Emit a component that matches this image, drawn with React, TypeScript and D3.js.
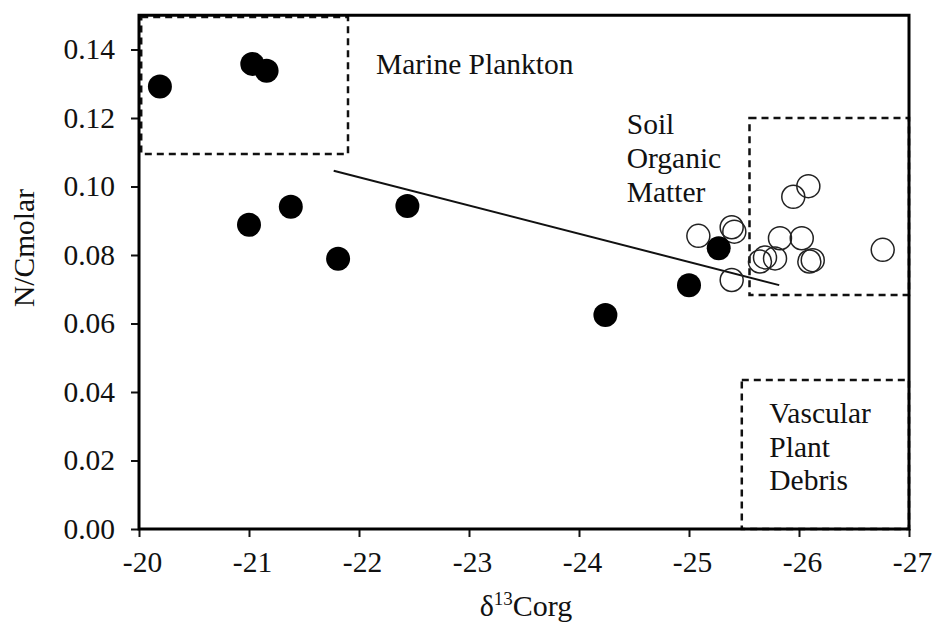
import { useRef, useEffect } from 'react';
import * as d3 from 'd3';

// filled: sediment samples, open: soil samples  [d13C, N/C]
const FILLED: [number, number][] = [
  [-20.19, 0.1292], [-21.03, 0.1358], [-21.16, 0.1338], [-21.0, 0.0888],
  [-21.38, 0.0941], [-21.81, 0.0789], [-22.44, 0.0943], [-24.24, 0.0625],
  [-25.0, 0.0712], [-25.27, 0.082],
];
const OPEN: [number, number][] = [
  [-25.085, 0.0856], [-25.388, 0.0881], [-25.412, 0.0868], [-25.388, 0.0727],
  [-25.645, 0.0781], [-25.691, 0.0793], [-25.782, 0.079], [-25.827, 0.0849],
  [-25.948, 0.097], [-26.085, 0.1001], [-26.025, 0.0849], [-26.094, 0.0781],
  [-26.125, 0.0785], [-26.761, 0.0815],
];
const TREND: [number, number][] = [[-21.77, 0.1046], [-25.82, 0.0712]];

const X_TICKS = [-20, -21, -22, -23, -24, -25, -26, -27];
const Y_TICKS = [0, 0.02, 0.04, 0.06, 0.08, 0.1, 0.12, 0.14];

const ZONES = [
  { id: 'marine', x0: -20.02, x1: -21.9, y0: 0.1095, y1: 0.1495 },
  { id: 'soil', x0: -25.55, x1: -27, y0: 0.0683, y1: 0.12 },
  { id: 'vascular', x0: -25.48, x1: -27, y0: 0, y1: 0.0435 },
];
const ZONE_LABELS = [
  { lines: ['Marine Plankton'], x: -22.155, y: 0.1328 },
  { lines: ['Soil', 'Organic', 'Matter'], x: -24.434, y: 0.1152 },
  { lines: ['Vascular', 'Plant', 'Debris'], x: -25.73, y: 0.0309 },
];

export default function App() {
  const ref = useRef<SVGSVGElement>(null);

  useEffect(() => {
    const svg = ref.current;
    if (!svg) return;
    const W = 938, H = 624;
    const font = '"Liberation Serif", "Times New Roman", serif';
    const fs = 29.5;
    d3.select(svg).selectAll('*').remove();
    const g = d3.select(svg).attr('viewBox', `0 0 ${W} ${H}`).append('g');

    const x = d3.scaleLinear().domain([-20, -27]).range([139, 909]);
    const y = d3.scaleLinear().domain([0, 0.15]).range([529, 15.25]);

    // dashed source zones
    ZONES.forEach((z) => {
      g.append('rect')
        .attr('x', x(z.x0)).attr('y', y(z.y1))
        .attr('width', x(z.x1) - x(z.x0)).attr('height', y(z.y0) - y(z.y1))
        .attr('fill', 'none').attr('stroke', '#111').attr('stroke-width', 2.5)
        .attr('stroke-dasharray', '7,5');
    });

    ZONE_LABELS.forEach((l) => {
      const t = g.append('text').attr('font-family', font).attr('font-size', fs).attr('fill', '#111');
      l.lines.forEach((line, i) => {
        t.append('tspan').attr('x', x(l.x)).attr('y', y(l.y) + i * 33.6).text(line);
      });
    });

    // trend line
    g.append('path')
      .attr('d', d3.line<[number, number]>().x((d) => x(d[0])).y((d) => y(d[1]))(TREND))
      .attr('fill', 'none').attr('stroke', '#111').attr('stroke-width', 2);

    OPEN.forEach((d) => {
      g.append('circle').attr('cx', x(d[0])).attr('cy', y(d[1])).attr('r', 11.5)
        .attr('fill', 'none').attr('stroke', '#222').attr('stroke-width', 1.5);
    });
    FILLED.forEach((d) => {
      g.append('circle').attr('cx', x(d[0])).attr('cy', y(d[1])).attr('r', 12).attr('fill', '#000');
    });

    // axes
    const xAxis = g.append('g').attr('transform', 'translate(0,529)')
      .call(d3.axisBottom(x).tickValues(X_TICKS).tickSize(8).tickPadding(14).tickFormat((d) => `${d}`));
    const yAxis = g.append('g').attr('transform', 'translate(139,0)')
      .call(d3.axisLeft(y).tickValues(Y_TICKS).tickSize(8).tickPadding(16).tickFormat(d3.format('.2f')));
    [xAxis, yAxis].forEach((a) => {
      a.select('.domain').remove();
      a.selectAll('line').attr('stroke', '#111').attr('stroke-width', 2);
      a.selectAll('text').attr('font-family', font).attr('font-size', fs).attr('fill', '#111');
    });
    xAxis.selectAll('text').attr('dx', 3);

    // frame
    g.append('rect')
      .attr('x', x(-20)).attr('y', y(0.15)).attr('width', x(-27) - x(-20)).attr('height', y(0) - y(0.15))
      .attr('fill', 'none').attr('stroke', '#000').attr('stroke-width', 3);

    // axis titles
    const xt = g.append('text').attr('x', (x(-20) + x(-27)) / 2 + 2).attr('y', 616)
      .attr('text-anchor', 'middle').attr('font-family', font).attr('font-size', 30).attr('fill', '#111');
    xt.append('tspan').text('δ');
    xt.append('tspan').attr('font-size', 19).attr('dy', -11).text('13');
    xt.append('tspan').attr('dy', 11).text('Corg');

    g.append('text').attr('transform', 'translate(34,248) rotate(-90)')
      .attr('text-anchor', 'middle').attr('font-family', font).attr('font-size', fs).attr('fill', '#111')
      .text('N/Cmolar');
  }, []);

  return (
    <div style={{ position: 'absolute', left: 0, top: 0, background: '#fff' }}>
      <svg ref={ref} width={938} height={624} style={{ display: 'block' }} />
    </div>
  );
}
